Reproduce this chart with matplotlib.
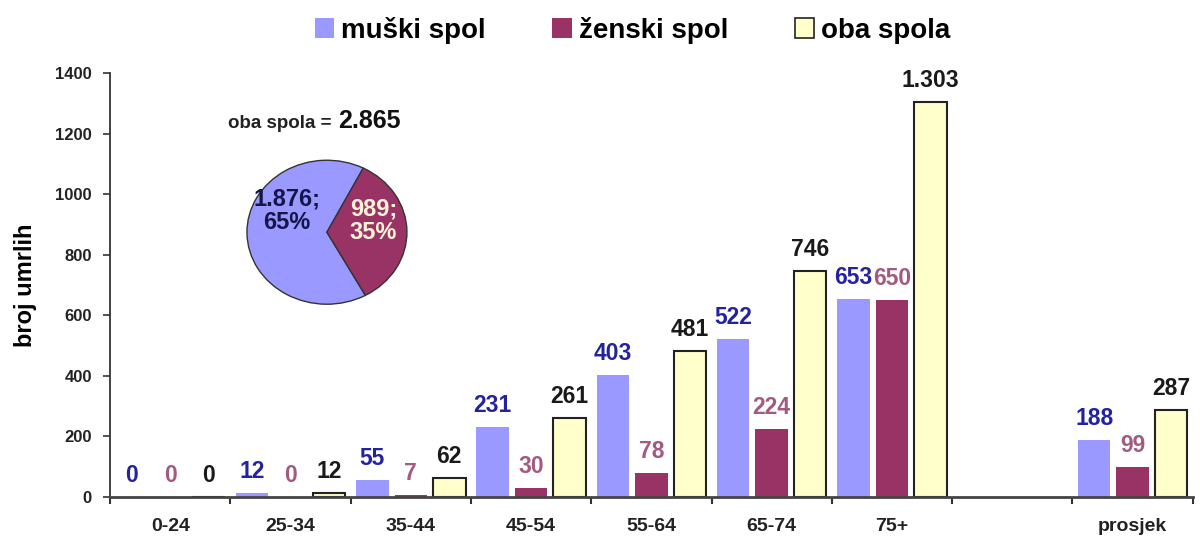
import numpy as np
import matplotlib
matplotlib.use("Agg")
import matplotlib.pyplot as plt
from matplotlib.patches import Patch

plt.rcParams['font.family'] = ['Liberation Sans', 'DejaVu Sans']

#----------------------------------------------------------------------
# data
#----------------------------------------------------------------------
categories = ["0-24", "25-34", "35-44", "45-54", "55-64", "65-74", "75+", "", "prosjek"]
muski = [0, 12, 55, 231, 403, 522, 653, None, 188]
zenski = [0, 0, 7, 30, 78, 224, 650, None, 99]
oba = [0, 12, 62, 261, 481, 746, 1303, None, 287]
value_text_oba = ["0", "12", "62", "261", "481", "746", "1.303", "", "287"]

pie_values = [1876, 989]
pie_labels = ["1.876;\n65%", "989;\n35%"]
pie_total = "2.865"

series_names = ["muški spol", "ženski spol", "oba spola"]

#----------------------------------------------------------------------
# styles
#----------------------------------------------------------------------
c_blue = "#9999FF"
c_red = "#993366"
c_yellow = "#FFFFCC"
t_blue = "#2323A0"
t_red = "#A25A82"
t_black = "#1A1A1A"

fig = plt.figure(figsize=(12, 5.41), dpi=100)
ax = fig.add_axes([0.0917, 0.0813, 0.9023, 0.7837])

width = 0.27
step = 0.32
x = np.arange(len(categories)) + 0.5

series = [
    (muski, c_blue, "none", t_blue, -step),
    (zenski, c_red, "none", t_red, 0),
    (oba, c_yellow, "#222222", t_black, step),
]

for k, (vals, fc, ec, tc, off) in enumerate(series):
    for i, v in enumerate(vals):
        if v is None:
            continue
        lw = 1.5 if ec != "none" else 0
        ax.bar(x[i] + off, v, width=width, color=fc, edgecolor=ec, linewidth=lw)
        if k == 2:
            label = value_text_oba[i]
        else:
            label = str(v)
        ax.text(x[i] + off, v + 33, label, ha="center", va="bottom",
                color=tc, fontsize=16.5, fontweight="bold")

ax.set_xlim(0, len(categories))
ax.set_ylim(0, 1400)
ax.set_yticks(np.arange(0, 1401, 200))
ax.set_xticks(x)
ax.set_xticklabels(categories, fontsize=14, fontweight="bold", color="#222222")
ax.set_xticks(np.arange(0, len(categories) + 1), minor=True)
ax.tick_params(axis="x", which="major", length=0, pad=15)
ax.tick_params(axis="x", which="minor", length=5, width=1.5, direction="out", color="#333333")
ax.tick_params(axis="y", length=5, width=1.2, direction="out", color="#333333",
               labelsize=12, pad=8)
for lab in ax.get_yticklabels():
    lab.set_fontweight("bold")
    lab.set_color("#222222")

ax.spines["top"].set_visible(False)
ax.spines["right"].set_visible(False)
ax.spines["left"].set_linewidth(1.3)
ax.spines["bottom"].set_linewidth(2)
ax.spines["left"].set_color("#333333")
ax.spines["bottom"].set_color("#444444")
ax.set_ylabel("broj umrlih", fontsize=17, fontweight="bold", labelpad=13)

# legend
handles = [Patch(facecolor=c_blue, edgecolor="none"),
           Patch(facecolor=c_red, edgecolor="none"),
           Patch(facecolor=c_yellow, edgecolor="#222222", linewidth=1.2)]
fig.legend(handles, series_names, loc="upper center", bbox_to_anchor=(0.527, 1.015),
           ncol=3, frameon=False, prop={"weight": "bold", "size": 20},
           handlelength=0.7, handleheight=0.7, handletextpad=0.25, columnspacing=2.4)

# pie inset
pax = fig.add_axes([0.2038, 0.4337, 0.1373, 0.2741])
wedges, _ = pax.pie(pie_values, colors=[c_blue, c_red], startangle=63,
                    wedgeprops={"edgecolor": "#333333", "linewidth": 1})
pax.set_aspect("auto")
pax.set_xlim(-1.03, 1.03)
pax.set_ylim(-1.03, 1.03)
pax.text(-0.5, 0.3, pie_labels[0], ha="center", va="center", fontsize=17,
         fontweight="bold", color="#15154A", linespacing=1.05)
pax.text(0.58, 0.16, pie_labels[1], ha="center", va="center", fontsize=17,
         fontweight="bold", color="#FFF4D6", linespacing=1.05)
pax.text(0.12, 1.45, "oba spola = ", ha="right", va="baseline", fontsize=13.5,
         fontweight="bold", color="#222222")
pax.text(0.14, 1.45, pie_total, ha="left", va="baseline", fontsize=18,
         fontweight="bold", color="#111111")

fig.savefig("out.png", dpi=100)
